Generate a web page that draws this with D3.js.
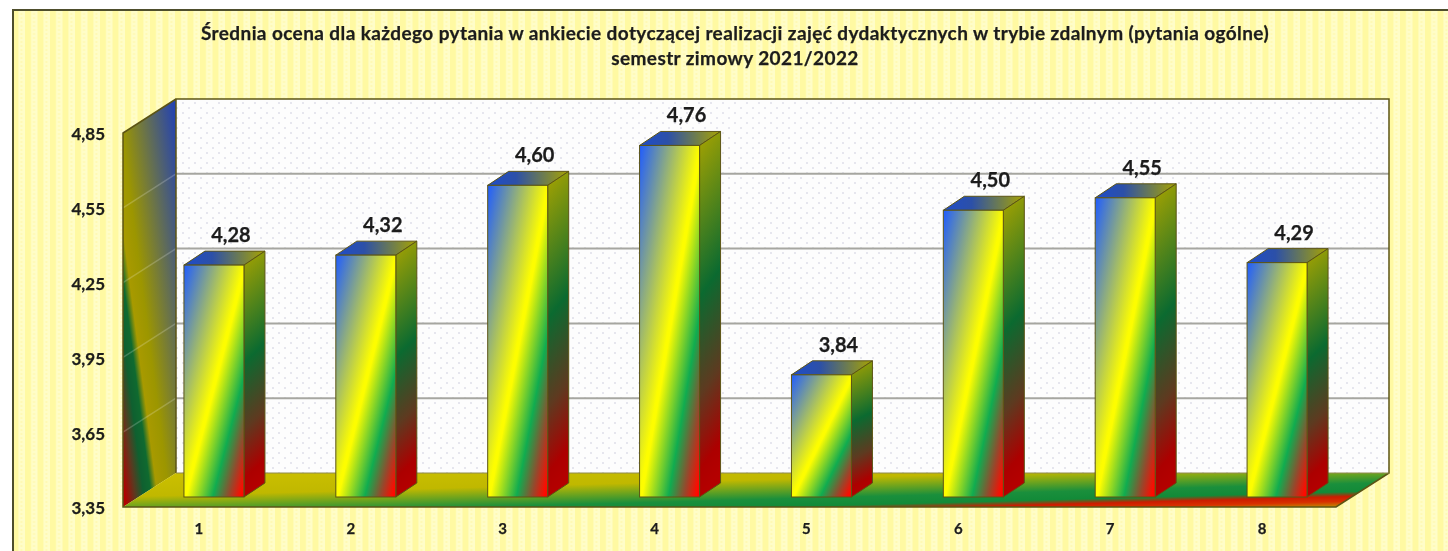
<!DOCTYPE html>
<html>
<head>
<meta charset="utf-8">
<script src="https://cdn.jsdelivr.net/npm/d3@7"></script>
<style>
  html, body { margin: 0; padding: 0; background: #fff; overflow: hidden; }
  svg { display: block; filter: blur(0.45px); }
  text { font-family: Lato, 'Open Sans', sans-serif; font-weight: 700; fill: #1c1c1c; stroke: #1c1c1c; stroke-width: 0.25px; }
</style>
</head>
<body>
<svg id="chart" width="1448" height="551"></svg>
<script>
var categories = ['1', '2', '3', '4', '5', '6', '7', '8'];
var values = [4.28, 4.32, 4.60, 4.76, 3.84, 4.50, 4.55, 4.29];
var yTicks = [3.35, 3.65, 3.95, 4.25, 4.55, 4.85];
var titleLines = [
  'Średnia ocena dla każdego pytania w ankiecie dotyczącej realizacji zajęć dydaktycznych w trybie zdalnym (pytania ogólne)',
  'semestr zimowy 2021/2022'
];

var svg = d3.select('#chart');
var defs = svg.append('defs');

// front plane of the 3d box, the back wall is shifted by depth
var plot = { left: 123, right: 1336, top: 133, bottom: 507 };
var depth = { x: 53, y: -34 };
var barOffset = { x: 15, y: -10 };
var barDepth = { x: 21, y: -14 };
var barWidth = 60;
var outline = '#5c5414';

var x = d3.scaleBand().domain(categories).range([plot.left, plot.right + 2]);
var y = d3.scaleLinear().domain([yTicks[0], yTicks[yTicks.length - 1]]).range([plot.bottom, plot.top]);

function gradient(id, coords, stops) {
  var g = defs.append('linearGradient')
    .attr('id', id)
    .attr('x1', coords[0]).attr('y1', coords[1])
    .attr('x2', coords[2]).attr('y2', coords[3]);
  stops.forEach(function (s) {
    g.append('stop').attr('offset', s[0]).attr('stop-color', s[1]);
  });
}

gradient('barFront', [0, 0, 1, 1], [
  [0, '#1f5cff'], [0.5, '#fdfd00'], [0.52, '#fdfd00'], [0.74, '#10ac50'], [0.87, '#96482c'], [0.97, '#ff0a00'], [1, '#ff0000']
]);
gradient('barSide', [0, 0, 0.08, 1], [
  [0, '#a8a400'], [0.45, '#0b6a30'], [0.72, '#5e3a20'], [0.92, '#ac0000'], [1, '#b40000']
]);
gradient('barTop', [0, 0, 1, 0], [[0, '#1f4cc8'], [0.35, '#2c50a8'], [1, '#a8a400']]);
gradient('wallSide', [1, 0, 0, 1], [
  [0, '#1f3fb8'], [0.55, '#9c9600'], [0.66, '#a89a00'], [0.72, '#0f6a30'], [0.79, '#0f6030'], [0.87, '#5a3a20'], [0.97, '#b40000'], [1, '#b40000']
]);
gradient('floor', [0, 0, 1, 1], [
  [0, '#ccc000'], [0.35, '#c0b800'], [0.64, '#1a8f3c'], [0.76, '#128a38'], [0.83, '#cc1c00'], [0.9, '#d83000'], [1, '#b8a800']
]);

var stripe = defs.append('pattern')
  .attr('id', 'paper')
  .attr('patternUnits', 'userSpaceOnUse')
  .attr('width', 12.5).attr('height', 4);
stripe.append('rect').attr('width', 12.5).attr('height', 4).attr('fill', '#fffdc8');
stripe.append('rect').attr('x', 0).attr('width', 6).attr('height', 4).attr('fill', '#fff9a2');
stripe.append('rect').attr('x', 8).attr('y', 1).attr('width', 2).attr('height', 2).attr('fill', '#fff6a0').attr('opacity', 0.5);

var dots = defs.append('pattern')
  .attr('id', 'wallDots')
  .attr('patternUnits', 'userSpaceOnUse')
  .attr('width', 12).attr('height', 10);
dots.append('rect').attr('width', 12).attr('height', 10).attr('fill', '#fdfdfd');
dots.append('rect').attr('x', 2).attr('y', 2).attr('width', 2).attr('height', 2).attr('fill', '#e6e6ee');
dots.append('rect').attr('x', 8).attr('y', 7).attr('width', 2).attr('height', 2).attr('fill', '#e6e6ee');

function pts(list) {
  return list.map(function (p) { return p[0] + ',' + p[1]; }).join(' ');
}

// paper background and frame, right and bottom edges run off the page
svg.append('rect')
  .attr('x', 13).attr('y', 10).attr('width', 1450).attr('height', 560)
  .attr('fill', 'url(#paper)')
  .attr('stroke', '#4e4e2c').attr('stroke-width', 2);

var chart = svg.append('g');

// back wall
chart.append('rect')
  .attr('x', plot.left + depth.x)
  .attr('y', plot.top + depth.y)
  .attr('width', plot.right - plot.left)
  .attr('height', plot.bottom - plot.top)
  .attr('fill', 'url(#wallDots)');

// gridlines on the back wall
chart.selectAll('.grid')
  .data(yTicks.slice(1, -1))
  .enter().append('line')
  .attr('class', 'grid')
  .attr('x1', plot.left + depth.x)
  .attr('x2', plot.right + depth.x)
  .attr('y1', function (d) { return y(d) + depth.y; })
  .attr('y2', function (d) { return y(d) + depth.y; })
  .attr('stroke', '#a6a6a0')
  .attr('stroke-width', 2);

// side wall
chart.append('polygon')
  .attr('points', pts([
    [plot.left, plot.top],
    [plot.left + depth.x, plot.top + depth.y],
    [plot.left + depth.x, plot.bottom + depth.y],
    [plot.left, plot.bottom]
  ]))
  .attr('fill', 'url(#wallSide)');

chart.selectAll('.sideGrid')
  .data(yTicks.slice(1, -1))
  .enter().append('line')
  .attr('class', 'sideGrid')
  .attr('x1', plot.left)
  .attr('x2', plot.left + depth.x)
  .attr('y1', function (d) { return y(d); })
  .attr('y2', function (d) { return y(d) + depth.y; })
  .attr('stroke', '#ffffff')
  .attr('stroke-opacity', 0.2)
  .attr('stroke-width', 1.5);

// floor
chart.append('polygon')
  .attr('points', pts([
    [plot.left, plot.bottom],
    [plot.left + depth.x, plot.bottom + depth.y],
    [plot.right + depth.x, plot.bottom + depth.y],
    [plot.right, plot.bottom]
  ]))
  .attr('fill', 'url(#floor)');

// box outline
chart.append('path')
  .attr('d', 'M' + pts([
    [plot.left + depth.x, plot.bottom + depth.y],
    [plot.left + depth.x, plot.top + depth.y],
    [plot.right + depth.x, plot.top + depth.y],
    [plot.right + depth.x, plot.bottom + depth.y],
    [plot.right, plot.bottom],
    [plot.left, plot.bottom],
    [plot.left, plot.top],
    [plot.left + depth.x, plot.top + depth.y]
  ]).replace(/ /g, 'L'))
  .attr('fill', 'none')
  .attr('stroke', outline)
  .attr('stroke-width', 1.5);
chart.append('line')
  .attr('x1', plot.left + depth.x).attr('x2', plot.right + depth.x)
  .attr('y1', plot.bottom + depth.y).attr('y2', plot.bottom + depth.y)
  .attr('stroke', '#8f8a50').attr('stroke-width', 1);

// bars
function barLeft(d) {
  return x(d.cat) + x.bandwidth() / 2 - barWidth / 2 + barOffset.x;
}
var data = categories.map(function (c, i) { return { cat: c, value: values[i] }; });
var bars = chart.selectAll('.bar').data(data).enter().append('g').attr('class', 'bar');

bars.append('polygon')
  .attr('points', function (d) {
    var l = barLeft(d), t = y(d.value) + barOffset.y;
    return pts([
      [l, t], [l + barDepth.x, t + barDepth.y],
      [l + barWidth + barDepth.x, t + barDepth.y], [l + barWidth, t]
    ]);
  })
  .attr('fill', 'url(#barTop)')
  .attr('stroke', outline);

bars.append('polygon')
  .attr('points', function (d) {
    var r = barLeft(d) + barWidth, t = y(d.value) + barOffset.y, b = plot.bottom + barOffset.y;
    return pts([
      [r, t], [r + barDepth.x, t + barDepth.y],
      [r + barDepth.x, b + barDepth.y], [r, b]
    ]);
  })
  .attr('fill', 'url(#barSide)')
  .attr('stroke', outline);

bars.append('rect')
  .attr('x', barLeft)
  .attr('y', function (d) { return y(d.value) + barOffset.y; })
  .attr('width', barWidth)
  .attr('height', function (d) { return plot.bottom - y(d.value); })
  .attr('fill', 'url(#barFront)')
  .attr('stroke', outline);

// value labels
bars.append('text')
  .attr('x', function (d) { return barLeft(d) + barWidth / 2 + 17; })
  .attr('y', function (d) { return y(d.value) - 33; })
  .attr('text-anchor', 'middle')
  .style('font-size', '20px')
  .text(function (d) { return d.value.toFixed(2).replace('.', ','); });

// axes
var yAxis = svg.append('g')
  .attr('transform', 'translate(' + (plot.left - 18) + ',1.5)')
  .call(d3.axisLeft(y).tickValues(yTicks).tickSize(0).tickPadding(0)
    .tickFormat(function (d) { return d.toFixed(2).replace('.', ','); }));
yAxis.select('.domain').remove();
yAxis.selectAll('text').style('font-size', '17px').style('fill', '#1c1c1c');

var xAxis = svg.append('g')
  .attr('transform', 'translate(0,' + (plot.bottom + 16) + ')')
  .call(d3.axisBottom(x).tickSize(0).tickPadding(0));
xAxis.select('.domain').remove();
xAxis.selectAll('text').style('font-size', '15px').style('fill', '#1c1c1c');

// title
svg.selectAll('.title')
  .data(titleLines)
  .enter().append('text')
  .attr('class', 'title')
  .attr('x', 735)
  .attr('y', function (d, i) { return 40 + i * 25; })
  .attr('text-anchor', 'middle')
  .style('font-size', '19px')
  .style('letter-spacing', '0.4px')
  .text(function (d) { return d; });
</script>
</body>
</html>
